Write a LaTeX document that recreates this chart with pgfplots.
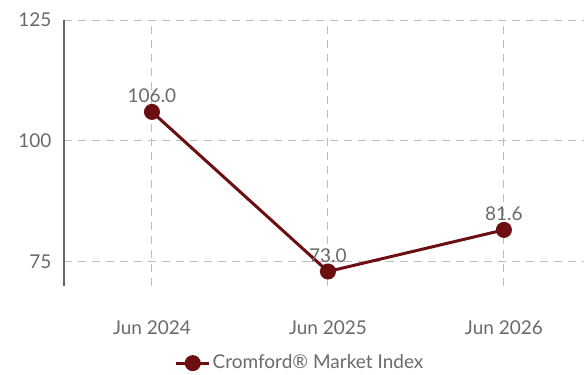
\documentclass[border=0pt]{standalone}
\usepackage{fontspec}
\setmainfont{Lato}
\usepackage{pgfplots}
\pgfplotsset{compat=1.18}
\definecolor{idx}{HTML}{6C0F13}
\definecolor{txt}{HTML}{6A6A6A}
\definecolor{gridc}{HTML}{BDBDBD}
\begin{document}
\fontsize{19bp}{22bp}\selectfont
\begin{tikzpicture}
\useasboundingbox (-64bp,-89bp) rectangle (520bp,286bp);
\begin{axis}[
  at={(0,0)}, anchor=south west,
  scale only axis, width=520bp, height=266bp,
  xmin=-0.5, xmax=2.455, ymin=70, ymax=125,
  xtick={0,1,2}, xticklabels={Jun 2024,Jun 2025,Jun 2026},
  ytick={75,100,125},
  axis lines*=left,
  x axis line style={draw=none},
  y axis line style={draw=black!60, line width=1.2bp},
  major tick length=0pt,
  grid=major,
  major grid style={gridc, line width=1bp, dash pattern=on 8bp off 6bp},
  /pgf/number format/assume math mode=true,
  tick label style={font=\fontsize{19bp}{22bp}\selectfont, text=txt},
  yticklabel style={xshift=-6bp},
  xticklabel style={yshift=-28bp},
  legend style={at={(0.454,-0.29)}, anchor=center, draw=none, fill=none,
    font=\fontsize{19bp}{22bp}\selectfont, text=txt},
  legend image code/.code={%
    \draw[mark repeat=2,mark phase=2] plot coordinates {(0cm,0cm)(0.58cm,0cm)(1.16cm,0cm)};},
  nodes near coords,
  point meta=explicit symbolic,
  every node near coord/.append style={text=txt, font=\fontsize{19bp}{22bp}\selectfont, anchor=south, yshift=1bp},
  clip=false,
]
\addplot[idx, line width=3bp, mark=*, mark size=6.5bp, mark options={solid, fill=idx}]
  coordinates {(0,106.0)[106.0] (1,73.0)[73.0] (2,81.6)[81.6]};
\addlegendentry{Cromford® Market Index}
\end{axis}
\end{tikzpicture}
\end{document}
